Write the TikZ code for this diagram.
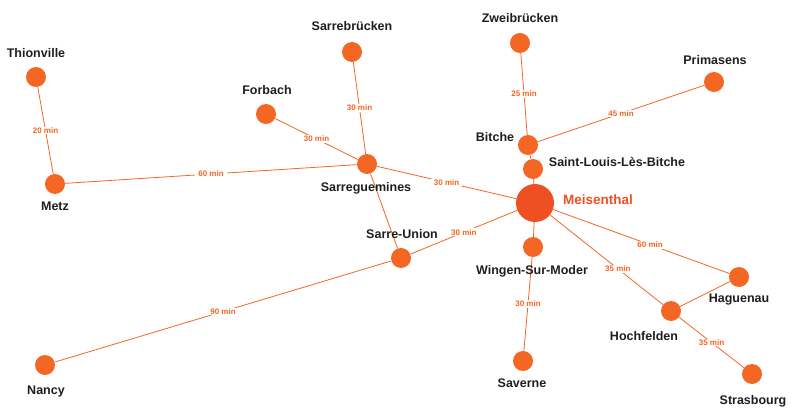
\documentclass[tikz,border=0pt]{standalone}
\usepackage{fontspec}
\setmainfont{Liberation Sans}
\definecolor{main}{RGB}{243,102,35}
\definecolor{second}{RGB}{238,80,35}
\definecolor{third}{RGB}{30,30,30}
\usepackage{tikz}
\usetikzlibrary{
	positioning,
	backgrounds % 背景
}
\tikzset{
  % node
	cstcity/.style    ={circle,fill=main,minimum size=20pt,inner sep=0pt},
	cstcenter/.style  ={circle,fill=second,minimum size=38pt,inner sep=0pt},
	cstname/.style    ={anchor=base,inner sep=0pt,text=third,font=\bfseries\fontsize{12.5}{14}\selectfont},
	cstnamec/.style   ={anchor=base,inner sep=0pt,text=second,font=\bfseries\fontsize{13.5}{15}\selectfont},
  % edge
	cstedge/.style    ={draw=main,line width=0.8pt},
	csttime/.style    ={fill=white,text=main,inner xsep=3pt,inner ysep=1pt,font=\bfseries\fontsize{8}{9}\selectfont}
}

\begin{document}
\begin{tikzpicture}[x=1pt,y=-1pt]
	\useasboundingbox (0,0) rectangle (791,414);
	% villes
	\node[cstcity] (thionville) at (36,77) {};
	\node[cstcity] (metz) at (55,184) {};
	\node[cstcity] (forbach) at (266,114) {};
	\node[cstcity] (sarrebrucken) at (352,52) {};
	\node[cstcity] (sarreguemines) at (367,164) {};
	\node[cstcity] (sarreunion) at (401,258) {};
	\node[cstcity] (nancy) at (45,365) {};
	\node[cstcity] (zweibrucken) at (520,43) {};
	\node[cstcity] (primasens) at (714,82) {};
	\node[cstcity] (bitche) at (528,145) {};
	\node[cstcity] (saintlouis) at (533,169) {};
	\node[cstcenter] (meisenthal) at (535,203) {};
	\node[cstcity] (wingen) at (533,247) {};
	\node[cstcity] (saverne) at (523,361) {};
	\node[cstcity] (hochfelden) at (671,311) {};
	\node[cstcity] (haguenau) at (739,277) {};
	\node[cstcity] (strasbourg) at (752,374) {};
	% noms
	\node[cstname] (thionvilleN) at (36,58) {Thionville};
	\node[cstname] (metzN) at (55,210) {Metz};
	\node[cstname] (forbachN) at (267,95) {Forbach};
	\node[cstname] (sarrebruckenN) at (352,31) {Sarrebrücken};
	\node[cstname] (sarregueminesN) at (366,191) {Sarreguemines};
	\node[cstname] (sarreunionN) at (402,238) {Sarre-Union};
	\node[cstname] (nancyN) at (46,394) {Nancy};
	\node[cstname] (zweibruckenN) at (520,23) {Zweibrücken};
	\node[cstname] (primasensN) at (715,65) {Primasens};
	\node[cstname] (bitcheN) at (495,142) {Bitche};
	\node[cstname] (saintlouisN) at (617,167) {Saint-Louis-Lès-Bitche};
	\node[cstnamec] (meisenthalN) at (598,204) {Meisenthal};
	\node[cstname] (wingenN) at (532,274) {Wingen-Sur-Moder};
	\node[cstname] (saverneN) at (522,387) {Saverne};
	\node[cstname] (hochfeldenN) at (644,340) {Hochfelden};
	\node[cstname] (haguenauN) at (739,302) {Haguenau};
	\node[cstname] (strasbourgN) at (753,404) {Strasbourg};
	% liaisons
	\begin{scope}[on background layer]
		\draw[cstedge] (thionville) -- node[csttime] {20 min} (metz);
		\draw[cstedge] (metz) -- node[csttime] {60 min} (sarreguemines);
		\draw[cstedge] (forbach) -- node[csttime] {30 min} (sarreguemines);
		\draw[cstedge] (sarrebrucken) -- node[csttime] {30 min} (sarreguemines);
		\draw[cstedge] (sarreguemines) -- node[csttime] {30 min} (meisenthal);
		\draw[cstedge] (sarreguemines) -- (sarreunion);
		\draw[cstedge] (sarreunion) -- node[csttime] {30 min} (meisenthal);
		\draw[cstedge] (nancy) -- node[csttime] {90 min} (sarreunion);
		\draw[cstedge] (zweibrucken) -- node[csttime] {25 min} (bitche);
		\draw[cstedge] (primasens) -- node[csttime] {45 min} (bitche);
		\draw[cstedge] (bitche) -- (saintlouis);
		\draw[cstedge] (saintlouis) -- (meisenthal);
		\draw[cstedge] (meisenthal) -- (wingen);
		\draw[cstedge] (wingen) -- node[csttime] {30 min} (saverne);
		\draw[cstedge] (meisenthal) -- node[csttime,pos=.6] {35 min} (hochfelden);
		\draw[cstedge] (meisenthal) -- node[csttime,pos=.55] {60 min} (haguenau);
		\draw[cstedge] (hochfelden) -- (haguenau);
		\draw[cstedge] (hochfelden) -- node[csttime] {35 min} (strasbourg);
	\end{scope}
\end{tikzpicture}
\end{document}
